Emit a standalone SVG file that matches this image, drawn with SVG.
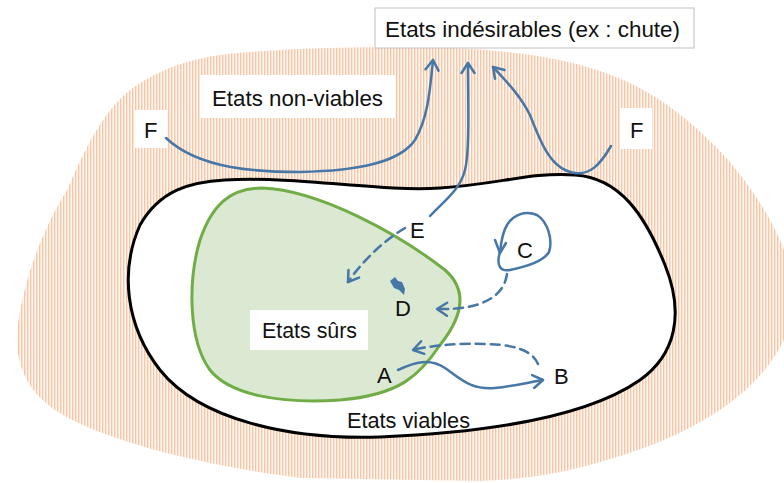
<svg xmlns="http://www.w3.org/2000/svg" width="784" height="483" viewBox="0 0 784 483">
<style>
.lbl{font-family:"Liberation Sans","DejaVu Sans",sans-serif;font-size:22px;fill:#111}
.box{fill:#fff;stroke:none}
.con{fill:none;stroke:#4677a7;stroke-width:2.5;stroke-linecap:round}
.dash{stroke-dasharray:9 6}
</style>
<defs>
<pattern id="stripes" width="3" height="4" patternUnits="userSpaceOnUse">
<rect width="3" height="4" fill="#fef6f0"/>
<rect x="0" width="1" height="4" fill="#f0965c" opacity="0.5"/>
<rect x="1" width="1" height="4" fill="#f8d2b6" opacity="0.5"/>
</pattern>
<marker id="arr" viewBox="-12 -8 14 16" markerWidth="14" markerHeight="16" refX="0" refY="0" orient="auto" markerUnits="userSpaceOnUse">
<path d="M -10,-6.5 L 0,0 L -10,6.5" fill="none" stroke="#4677a7" stroke-width="2.5" stroke-linecap="round" stroke-linejoin="round"/>
</marker>
</defs>

<g id="non-viables-region">
<path d="M 400,47 C 520,47 600,60 660,100 C 720,140 765,200 784,250 L 784,340 C 760,390 700,435 600,462 C 560,474 520,480 480,481 L 300,478 C 200,465 100,440 55,410 C 25,390 15,360 17,333 C 22,280 45,225 67,190 C 85,150 100,115 130,90 C 165,65 200,55 250,52 C 300,48 350,47 400,47 Z" fill="url(#stripes)"/>
</g>

<g id="viables-region">
<path d="M 225,180 C 300,176 380,192 440,188 C 500,184 530,172 575,175 C 620,178 645,215 665,265 C 685,315 675,355 640,380 C 590,415 500,432 380,437 C 290,440 200,420 160,370 C 125,325 120,270 140,225 C 160,190 190,182 225,180 Z" fill="#fff" stroke="#000" stroke-width="3"/>
</g>

<g id="surs-region">
<path d="M 262,188 C 320,190 400,235 445,270 C 470,292 460,320 440,345 C 420,375 400,395 340,400 C 280,404 230,395 210,370 C 188,340 188,280 200,240 C 212,205 230,188 262,188 Z" fill="#dbe9d2" stroke="#70ad47" stroke-width="3"/>
</g>

<g id="title">
<rect x="375" y="8" width="319" height="40" fill="#fff" stroke="#bfbfbf" stroke-width="1"/>
<text class="lbl" x="385" y="37" textLength="295" lengthAdjust="spacingAndGlyphs">Etats indésirables (ex : chute)</text>
</g>

<g id="non-viables-label">
<rect class="box" x="200" y="75" width="195" height="43"/>
<text class="lbl" x="212" y="106" textLength="171" lengthAdjust="spacingAndGlyphs">Etats non-viables</text>
</g>

<g id="F-left">
<rect class="box" x="135" y="110" width="32" height="38"/>
<text class="lbl" x="144" y="138">F</text>
</g>

<g id="F-right">
<rect class="box" x="620" y="108" width="32" height="41"/>
<text class="lbl" x="630" y="138">F</text>
</g>

<g id="surs-label">
<rect class="box" x="250" y="310" width="118" height="40"/>
<text class="lbl" x="262" y="338" textLength="95" lengthAdjust="spacingAndGlyphs">Etats sûrs</text>
</g>

<g id="viables-label">
<text class="lbl" x="347" y="428" textLength="123" lengthAdjust="spacingAndGlyphs">Etats viables</text>
</g>

<g id="A"><text class="lbl" x="377" y="383">A</text></g>
<g id="B"><text class="lbl" x="554" y="384">B</text></g>
<g id="C"><text class="lbl" x="517" y="258">C</text></g>
<g id="D"><text class="lbl" x="395" y="316">D</text>
<path d="M 390,281 L 395,277 L 398,281 L 402,282 L 405,289 L 404,295 L 399,290 L 394,288 Z" fill="#4677a7"/>
</g>
<g id="E"><text class="lbl" x="410" y="238">E</text></g>

<g id="connectors">
<path class="con" d="M 166,138 C 200,170 260,172 300,172 C 360,171 400,162 415,140 C 428,118 430,90 433,60" marker-end="url(#arr)"/>
<path class="con" d="M 430,216 C 445,200 460,190 465,170 C 470,150 468,100 468,63" marker-end="url(#arr)"/>
<path class="con dash" d="M 405,228 C 385,240 365,258 348,282" marker-end="url(#arr)"/>
<path class="con" d="M 611,146 C 600,165 590,175 575,173 C 550,170 540,140 530,115 C 520,95 505,80 493,67" marker-end="url(#arr)"/>
<path class="con" d="M 500,252 C 496,265 500,272 510,270 C 525,267 543,262 549,252 C 553,240 548,222 537,215 C 525,210 513,215 507,225 C 502,233 501,243 500,252 Z"/>
<path class="con" d="M 495,240 L 500,253 L 506,243" stroke-linejoin="round"/>
<path class="con dash" d="M 507,274 C 504,295 485,310 437,309" marker-end="url(#arr)"/>
<path class="con dash" d="M 538,364 C 530,345 500,343 460,344 C 440,345 425,347 413,350" marker-end="url(#arr)"/>
<path class="con" d="M 398,370 C 415,362 430,358 445,368 C 460,378 470,390 495,388 C 515,386 530,382 543,380" marker-end="url(#arr)"/>
</g>
</svg>
